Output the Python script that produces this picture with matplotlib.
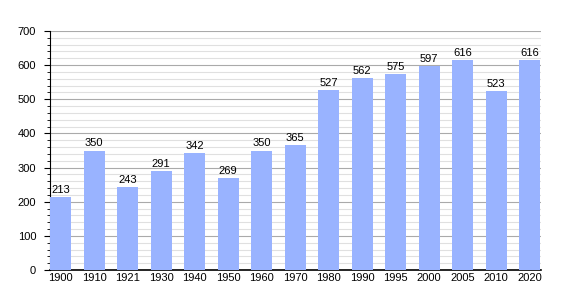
import numpy as np
import matplotlib
matplotlib.use('Agg')
import matplotlib.pyplot as plt
from matplotlib.ticker import MultipleLocator

years = ['1900', '1910', '1921', '1930', '1940', '1950', '1960', '1970',
         '1980', '1990', '1995', '2000', '2005', '2010', '2020']
population = [213, 350, 243, 291, 342, 269, 350, 365,
              527, 562, 575, 597, 616, 523, 616]

plt.rcParams['font.family'] = ['Liberation Sans', 'DejaVu Sans']
plt.rcParams['font.size'] = 8

fig = plt.figure(figsize=(5.7, 3.0), dpi=100)
ax = fig.add_axes([50 / 570, 30 / 300, 491 / 570, 239 / 300])

x = np.arange(len(years))
ax.bar(x, population, width=0.63, color='#99b3ff', zorder=3)
for xi, v in zip(x, population):
    ax.text(xi, v + 6, str(v), ha='center', va='bottom', fontsize=8, zorder=4)

ax.set_xlim(-0.32, len(years) - 1 + 0.34)
ax.set_ylim(0, 700)
ax.set_xticks(x)
ax.set_xticklabels(years)
ax.yaxis.set_major_locator(MultipleLocator(100))
ax.yaxis.set_minor_locator(MultipleLocator(20))
ax.grid(axis='y', which='major', color='#aaaaaa', linewidth=0.8, zorder=1)
ax.grid(axis='y', which='minor', color='#e0e0e0', linewidth=0.8, zorder=0)

for s in ('top', 'right'):
    ax.spines[s].set_visible(False)
ax.spines['left'].set_color('black')
ax.spines['bottom'].set_color('black')
ax.spines['bottom'].set_linewidth(1.2)
ax.tick_params(axis='x', length=0, pad=2)
ax.tick_params(axis='y', which='major', length=4, pad=6)
ax.tick_params(axis='y', which='minor', length=2)

fig.savefig('out.png', dpi=100)
